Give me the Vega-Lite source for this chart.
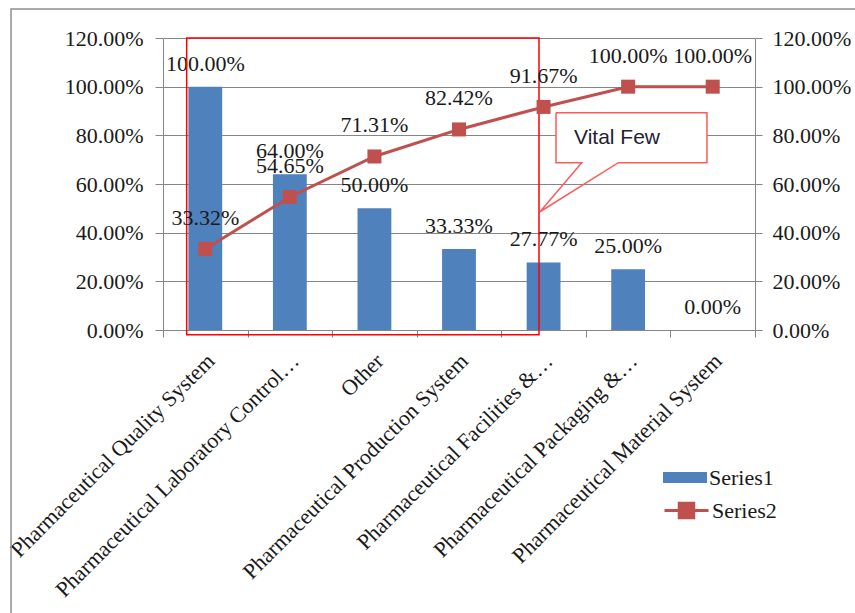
{
  "$schema": "https://vega.github.io/schema/vega-lite/v6.json",
  "width": 592,
  "height": 292,
  "autosize": {"type": "none"},
  "padding": {"left": 163, "top": 38, "right": 100, "bottom": 283},
  "background": "white",
  "config": {"view": {"stroke": null}, "font": "Liberation Serif"},
  "datasets": {
    "main": [
      {"category": "Pharmaceutical Quality System", "share": 1.0, "cumulative": 0.3332},
      {"category": "Pharmaceutical Laboratory Control…", "share": 0.64, "cumulative": 0.5465},
      {"category": "Other", "share": 0.5, "cumulative": 0.7131},
      {"category": "Pharmaceutical Production System", "share": 0.3333, "cumulative": 0.8242},
      {"category": "Pharmaceutical Facilities &…", "share": 0.2777, "cumulative": 0.9167},
      {"category": "Pharmaceutical Packaging &…", "share": 0.25, "cumulative": 1.0},
      {"category": "Pharmaceutical Material System", "share": 0.0, "cumulative": 1.0}
    ],
    "frame": [{"x0": -1.797, "x1": 9, "y0": 1.319, "y1": -2}],
    "vital": [{"x0": 0.28, "x1": 4.446, "y0": 1.2, "y1": -0.02}],
    "calloutBox": [{"x0": 4.647, "x1": 6.432, "y0": 0.893, "y1": 0.6875}],
    "calloutPath": [
      {"x": 4.647, "y": 0.893, "o": 0},
      {"x": 6.432, "y": 0.893, "o": 1},
      {"x": 6.432, "y": 0.6875, "o": 2},
      {"x": 5.384, "y": 0.6875, "o": 3},
      {"x": 4.458, "y": 0.486, "o": 4},
      {"x": 4.951, "y": 0.6875, "o": 5},
      {"x": 4.647, "y": 0.6875, "o": 6},
      {"x": 4.647, "y": 0.893, "o": 7}
    ],
    "calloutText": [{"x": 4.86, "y": 0.789, "label": "Vital Few"}]
  },
  "layer": [
    {
      "layer": [
        {
          "data": {"name": "frame"},
          "mark": {"type": "rect", "filled": false, "stroke": "#8f8f8f", "strokeWidth": 1.5},
          "encoding": {
            "x": {"field": "x0", "type": "quantitative", "scale": {"domain": [0, 7], "nice": false, "zero": false}, "axis": null},
            "x2": {"field": "x1"},
            "y": {"field": "y0", "type": "quantitative", "scale": {"domain": [0, 1.2], "nice": false, "zero": false}, "axis": null},
            "y2": {"field": "y1"}
          }
        }
      ]
    },
    {
      "data": {"name": "main"},
      "encoding": {
        "x": {
          "field": "category", "type": "nominal", "sort": null,
          "scale": {"type": "band", "paddingInner": 0, "paddingOuter": 0},
          "axis": {
            "title": null, "labelAngle": -45, "labelAlign": "right", "labelBaseline": "middle",
            "labelPadding": 20, "labelOffset": 5, "labelLimit": 400, "labelOverlap": false,
            "labelFont": "Liberation Serif", "labelFontSize": 22, "labelColor": "#1a1a1a",
            "tickBand": "extent", "tickSize": 7, "tickColor": "#868686", "domainColor": "#868686", "grid": false
          }
        },
        "y": {
          "field": "share", "type": "quantitative",
          "scale": {"domain": [0, 1.2], "nice": false},
          "axis": {
            "title": null, "values": [0, 0.2, 0.4, 0.6, 0.8, 1.0, 1.2], "format": ".2%",
            "grid": true, "gridColor": "#868686", "domainColor": "#868686", "tickColor": "#868686",
            "tickSize": 8, "labelPadding": 12, "labelFont": "Liberation Serif", "labelFontSize": 22, "labelColor": "#1a1a1a"
          }
        }
      },
      "layer": [
        {
          "mark": {"type": "bar", "width": {"band": 0.4}},
          "encoding": {
            "fill": {
              "datum": "Series1", "type": "nominal", "scale": {"range": ["#4f81bd"]},
              "legend": {
                "title": null, "orient": "none", "legendX": 500, "legendY": 417.5, "padding": 0,
                "symbolType": "M-1,-0.25H1V0.25H-1Z", "symbolSize": 1936, "symbolStrokeWidth": 0,
                "labelFont": "Liberation Serif", "labelFontSize": 22, "labelColor": "#1a1a1a", "labelOffset": 2
              }
            }
          }
        },
        {
          "mark": {"type": "text", "dy": -23, "baseline": "middle", "font": "Liberation Serif", "fontSize": 22, "color": "#1a1a1a"},
          "encoding": {"text": {"field": "share", "type": "quantitative", "format": ".2%"}}
        }
      ]
    },
    {
      "layer": [
        {
          "data": {"name": "vital"},
          "mark": {"type": "rect", "filled": false, "stroke": "#ff0000", "strokeWidth": 1.5},
          "encoding": {
            "x": {"field": "x0", "type": "quantitative", "scale": {"domain": [0, 7], "nice": false, "zero": false}, "axis": null},
            "x2": {"field": "x1"},
            "y": {"field": "y0", "type": "quantitative", "scale": {"domain": [0, 1.2], "nice": false, "zero": false}, "axis": null},
            "y2": {"field": "y1"}
          }
        },
        {
          "data": {"name": "calloutBox"},
          "mark": {"type": "rect", "fill": "white", "strokeWidth": 0},
          "encoding": {
            "x": {"field": "x0", "type": "quantitative", "scale": {"domain": [0, 7], "nice": false, "zero": false}, "axis": null},
            "x2": {"field": "x1"},
            "y": {"field": "y0", "type": "quantitative", "scale": {"domain": [0, 1.2], "nice": false, "zero": false}, "axis": null},
            "y2": {"field": "y1"}
          }
        },
        {
          "data": {"name": "calloutPath"},
          "mark": {"type": "line", "color": "#ff5a5a", "strokeWidth": 1.5},
          "encoding": {
            "x": {"field": "x", "type": "quantitative", "scale": {"domain": [0, 7], "nice": false, "zero": false}, "axis": null},
            "y": {"field": "y", "type": "quantitative", "scale": {"domain": [0, 1.2], "nice": false, "zero": false}, "axis": null},
            "order": {"field": "o", "type": "quantitative"}
          }
        },
        {
          "data": {"name": "calloutText"},
          "mark": {"type": "text", "align": "left", "baseline": "middle", "font": "Liberation Sans", "fontSize": 21, "color": "#1f2233"},
          "encoding": {
            "x": {"field": "x", "type": "quantitative", "scale": {"domain": [0, 7], "nice": false, "zero": false}, "axis": null},
            "y": {"field": "y", "type": "quantitative", "scale": {"domain": [0, 1.2], "nice": false, "zero": false}, "axis": null},
            "text": {"field": "label", "type": "nominal"}
          }
        }
      ]
    },
    {
      "data": {"name": "main"},
      "encoding": {
        "x": {
          "field": "category", "type": "nominal", "sort": null,
          "scale": {"type": "band", "paddingInner": 0, "paddingOuter": 0},
          "axis": null
        },
        "y": {
          "field": "cumulative", "type": "quantitative",
          "scale": {"domain": [0, 1.2], "nice": false},
          "axis": {
            "orient": "right", "title": null, "values": [0, 0.2, 0.4, 0.6, 0.8, 1.0, 1.2], "format": ".2%",
            "grid": false, "domainColor": "#868686", "tickColor": "#868686",
            "tickSize": 7, "labelPadding": 10, "labelFont": "Liberation Serif", "labelFontSize": 22, "labelColor": "#1a1a1a"
          }
        }
      },
      "layer": [
        {
          "mark": {"type": "line", "strokeWidth": 3},
          "encoding": {
            "stroke": {
              "datum": "Series2", "type": "nominal", "scale": {"range": ["#c0504d"]},
              "legend": {
                "title": null, "orient": "none", "legendX": 500, "legendY": 449, "padding": 0,
                "symbolType": "M-1,0H1M-0.33,-0.33H0.33V0.33H-0.33Z", "symbolSize": 1936,
                "symbolStrokeWidth": 3, "symbolFillColor": "#c0504d", "symbolStrokeColor": "#c0504d",
                "labelFont": "Liberation Serif", "labelFontSize": 22, "labelColor": "#1a1a1a", "labelOffset": 2
              }
            }
          }
        },
        {
          "mark": {"type": "point", "shape": "square", "size": 196, "filled": true, "color": "#c0504d", "opacity": 1}
        },
        {
          "mark": {"type": "text", "dy": -31, "baseline": "middle", "font": "Liberation Serif", "fontSize": 22, "color": "#1a1a1a"},
          "encoding": {"text": {"field": "cumulative", "type": "quantitative", "format": ".2%"}}
        }
      ]
    }
  ],
  "resolve": {"scale": {"x": "independent", "y": "independent"}}
}
